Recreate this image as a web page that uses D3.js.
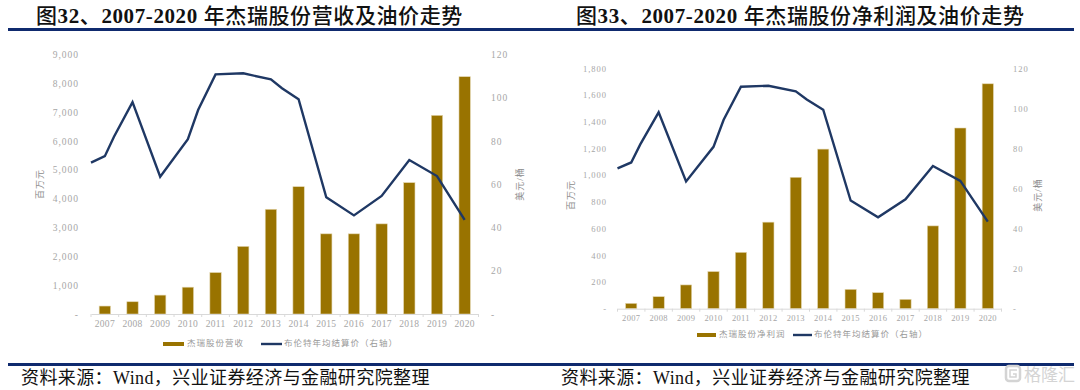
<!DOCTYPE html>
<html>
<head>
<meta charset="utf-8">
<script src="https://cdn.jsdelivr.net/npm/d3@7/dist/d3.min.js"></script>
<style>
html, body { margin: 0; padding: 0; background: #fff; }
svg { display: block; }
text { font-family: "Liberation Serif", "Noto Sans CJK SC", serif; }
</style>
</head>
<body>
<svg id="chartsvg" width="1080" height="390"></svg>
<script>
const years = [2007, 2008, 2009, 2010, 2011, 2012, 2013, 2014, 2015, 2016, 2017, 2018, 2019, 2020];
const revenue = [276, 425, 655, 930, 1437, 2345, 3632, 4415, 2780, 2780, 3126, 4555, 6890, 8230];
const netProfit = [40, 90, 178, 278, 422, 648, 984, 1195, 145, 120, 70, 620, 1353, 1684];

// the oil line starts half a year early and has a few kinks between years
const oilYears = [2006.5, 2007, 2007.33, 2008, 2009, 2010, 2010.37, 2011, 2012, 2013, 2013.4, 2014, 2015, 2016, 2017, 2018, 2019, 2020];
const oilPrice = [70, 73, 82, 98, 63.5, 80.8, 94.3, 110.8, 111.3, 108.5, 104.4, 99.3, 54, 45.6, 54.6, 71.2, 63.8, 43.5];

const revenueTicks = [0, 1000, 2000, 3000, 4000, 5000, 6000, 7000, 8000, 9000];
const profitTicks = [0, 200, 400, 600, 800, 1000, 1200, 1400, 1600, 1800];
const oilTicks = [0, 20, 40, 60, 80, 100, 120];

const BAR_COLOR = "#997300";
const LINE_COLOR = "#1f3864";
const RULE_COLOR = "#0f2a6e";
const LABEL_COLOR = "#a6a6a6";

const svg = d3.select("#chartsvg");

function drawChart(o) {
    const x = d3.scaleBand().domain(o.categories).range([o.left, o.right]).paddingInner(0.59).paddingOuter(0.295);
    const xYear = d3.scaleLinear()
        .domain([years[0], years[years.length - 1]])
        .range([x(years[0]) + x.bandwidth() / 2, x(years[years.length - 1]) + x.bandwidth() / 2]);
    const yLeft = d3.scaleLinear().domain([0, o.barMax]).range([o.bottom, o.top]);
    const yRight = d3.scaleLinear().domain([0, 120]).range([o.bottom, o.top]);
    const chart = svg.append("g");

    // title, the digits are bold and the rest is not
    const title = chart.append("text")
        .attr("x", o.titleX)
        .attr("y", 23)
        .attr("font-size", 21)
        .attr("font-weight", 500)
        .attr("letter-spacing", 0.6)
        .attr("fill", "#111");
    o.title.match(/[0-9-]+|[^0-9-]+/g).forEach(part => {
        title.append("tspan")
            .attr("font-weight", /[0-9]/.test(part) ? 700 : 500)
            .text(part);
    });

    // bars
    chart.selectAll("rect.bar")
        .data(o.values)
        .enter()
        .append("rect")
        .attr("class", "bar")
        .attr("x", (d, i) => x(o.categories[i]))
        .attr("y", d => yLeft(d))
        .attr("width", x.bandwidth())
        .attr("height", d => o.bottom - yLeft(d))
        .attr("fill", BAR_COLOR)
        .attr("stroke", "#e3d6ae")
        .attr("stroke-width", 0.6);

    // x axis with ticks on the band edges
    const xAxis = chart.append("g")
        .attr("transform", `translate(0, ${o.bottom})`)
        .call(d3.axisBottom(x).tickSize(0).tickPadding(6));
    xAxis.select(".domain").attr("stroke", "#d9d9d9");
    xAxis.selectAll("text")
        .attr("font-size", o.labelSize)
        .attr("font-family", null)
        .attr("fill", LABEL_COLOR)
        .attr("letter-spacing", 0.3);
    chart.selectAll("line.edge")
        .data(o.categories.concat(["end"]))
        .enter()
        .append("line")
        .attr("class", "edge")
        .attr("x1", (d, i) => o.left + i * x.step())
        .attr("x2", (d, i) => o.left + i * x.step())
        .attr("y1", o.bottom)
        .attr("y2", o.bottom + 3)
        .attr("stroke", "#d9d9d9");

    // left axis, zero shows as a dash
    const leftAxis = chart.append("g")
        .attr("transform", `translate(${o.left}, 0)`)
        .call(d3.axisLeft(yLeft).tickValues(o.ticks).tickSize(0).tickPadding(o.left - o.leftLabelX)
            .tickFormat(d => d === 0 ? "-" : d3.format(",")(d)));
    leftAxis.select(".domain").remove();
    leftAxis.selectAll("text")
        .attr("font-size", o.labelSize)
        .attr("font-family", null)
        .attr("fill", LABEL_COLOR)
        .attr("letter-spacing", 1);

    // right axis
    const rightAxis = chart.append("g")
        .attr("transform", `translate(${o.right}, 0)`)
        .call(d3.axisRight(yRight).tickValues(oilTicks).tickSize(0).tickPadding(o.rightLabelX - o.right)
            .tickFormat(d => d === 0 ? "-" : d));
    rightAxis.select(".domain").remove();
    rightAxis.selectAll("text")
        .attr("font-size", o.labelSize)
        .attr("font-family", null)
        .attr("fill", LABEL_COLOR)
        .attr("letter-spacing", 1);

    // oil line
    const line = d3.line()
        .x(d => xYear(d.year))
        .y(d => yRight(d.price));
    chart.append("path")
        .datum(oilYears.map((year, i) => ({ year, price: oilPrice[i] })))
        .attr("d", line)
        .attr("fill", "none")
        .attr("stroke", LINE_COLOR)
        .attr("stroke-width", 2.4);

    // axis names
    chart.append("text")
        .attr("transform", `translate(${o.leftNameX}, ${o.nameY}) rotate(-90)`)
        .attr("text-anchor", "middle")
        .attr("dominant-baseline", "middle")
        .attr("font-size", 9)
        .attr("letter-spacing", 1)
        .attr("fill", "#8c8c8c")
        .text("百万元");
    chart.append("text")
        .attr("transform", `translate(${o.rightNameX}, ${o.nameY}) rotate(-90)`)
        .attr("text-anchor", "middle")
        .attr("dominant-baseline", "middle")
        .attr("font-size", 9)
        .attr("letter-spacing", 1)
        .attr("fill", "#8c8c8c")
        .text("美元/桶");

    // legend
    chart.append("rect")
        .attr("x", o.legendX)
        .attr("y", o.legendY - 2)
        .attr("width", o.swatch)
        .attr("height", 4)
        .attr("fill", BAR_COLOR);
    chart.append("text")
        .attr("x", o.legendX + o.swatch + 3)
        .attr("y", o.legendY)
        .attr("dominant-baseline", "middle")
        .attr("font-size", 8.5)
        .attr("letter-spacing", 1)
        .attr("fill", "#999")
        .text(o.barName);
    chart.append("line")
        .attr("x1", o.legendX2)
        .attr("x2", o.legendX2 + o.swatch)
        .attr("y1", o.legendY)
        .attr("y2", o.legendY)
        .attr("stroke", LINE_COLOR)
        .attr("stroke-width", 2.4);
    chart.append("text")
        .attr("x", o.legendX2 + o.swatch + 2)
        .attr("y", o.legendY)
        .attr("dominant-baseline", "middle")
        .attr("font-size", 8.5)
        .attr("letter-spacing", 1)
        .attr("fill", "#999")
        .text("布伦特年均结算价（右轴）");

    // source
    chart.append("text")
        .attr("x", o.sourceX)
        .attr("y", 384)
        .attr("font-size", 18)
        .attr("letter-spacing", 0.4)
        .attr("fill", "#111")
        .text("资料来源：Wind，兴业证券经济与金融研究院整理");
}

// header and footer rules
svg.append("rect").attr("x", 8).attr("y", 28).attr("width", 1066).attr("height", 3).attr("fill", RULE_COLOR);
svg.append("rect").attr("x", 8).attr("y", 363).attr("width", 1066).attr("height", 3).attr("fill", RULE_COLOR);

drawChart({
    title: "图32、2007-2020 年杰瑞股份营收及油价走势",
    titleX: 36,
    categories: years,
    values: revenue,
    ticks: revenueTicks,
    barMax: 9000,
    barName: "杰瑞股份营收",
    left: 91, right: 478.5, top: 54.5, bottom: 314,
    leftLabelX: 79, rightLabelX: 491,
    leftNameX: 41, rightNameX: 521, nameY: 184,
    labelSize: 9.5,
    swatch: 21,
    legendX: 163, legendX2: 261, legendY: 344,
    sourceX: 21
});

drawChart({
    title: "图33、2007-2020 年杰瑞股份净利润及油价走势",
    titleX: 576,
    categories: years,
    values: netProfit,
    ticks: profitTicks,
    barMax: 1800,
    barName: "杰瑞股份净利润",
    left: 617.5, right: 1001.5, top: 68.3, bottom: 308.7,
    leftLabelX: 607, rightLabelX: 1013,
    leftNameX: 572, rightNameX: 1039, nameY: 195,
    labelSize: 8.5,
    swatch: 19,
    legendX: 697, legendX2: 793, legendY: 335,
    sourceX: 561
});

// watermark
const mark = svg.append("g");
mark.append("rect")
    .attr("x", 1006).attr("y", 366).attr("width", 14).attr("height", 15).attr("rx", 3)
    .attr("fill", "none").attr("stroke", "#d4d4d4").attr("stroke-width", 2.5);
mark.append("path")
    .attr("d", "M1017 370H1010V377H1016V374H1013")
    .attr("fill", "none").attr("stroke", "#d4d4d4").attr("stroke-width", 1.5);
mark.append("text")
    .attr("x", 1024).attr("y", 381)
    .attr("font-size", 17)
    .attr("fill", "#d4d4d4")
    .text("格隆汇");
</script>
</body>
</html>
